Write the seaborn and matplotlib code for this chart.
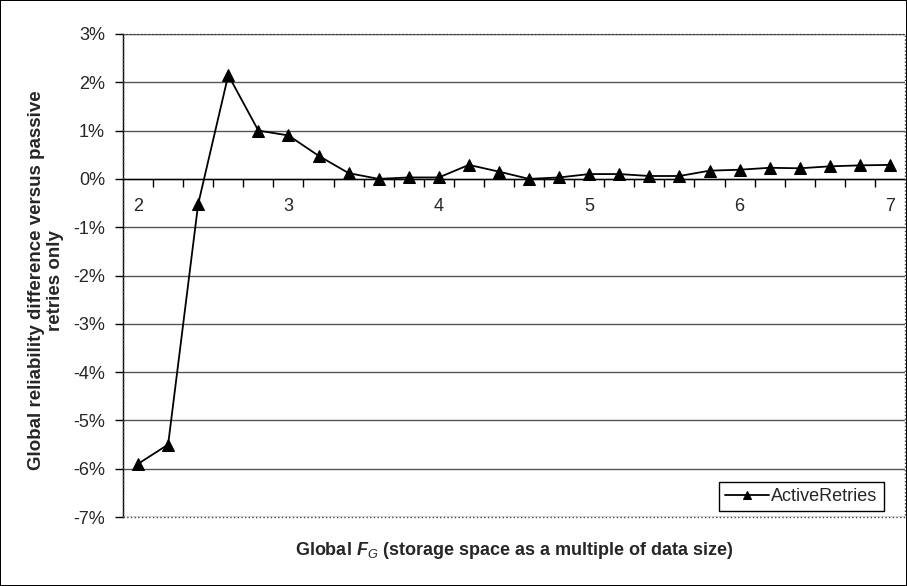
import numpy as np
import pandas as pd
import matplotlib
matplotlib.use("Agg")
import matplotlib.pyplot as plt
import matplotlib.ticker as mticker
from matplotlib.patches import Rectangle
import seaborn as sns

# data
storage_factor = [2.0, 2.2, 2.4, 2.6, 2.8, 3.0, 3.2, 3.4, 3.6, 3.8, 4.0, 4.2, 4.4,
                  4.6, 4.8, 5.0, 5.2, 5.4, 5.6, 5.8, 6.0, 6.2, 6.4, 6.6, 6.8, 7.0]
active_retries = [-5.9, -5.5, -0.52, 2.15, 1.0, 0.9, 0.48, 0.12, 0.0, 0.03, 0.03, 0.29, 0.15,
                  0.0, 0.03, 0.1, 0.1, 0.06, 0.06, 0.17, 0.19, 0.23, 0.22, 0.26, 0.28, 0.29]
x_labels = [2, 3, 4, 5, 6, 7]
y_ticks = [3, 2, 1, 0, -1, -2, -3, -4, -5, -6, -7]

df = pd.DataFrame({"fg": storage_factor, "diff": active_retries})

sns.set_style("white")
plt.rcParams['font.family'] = ['Liberation Sans', 'DejaVu Sans']
plt.rcParams['axes.unicode_minus'] = False
plt.rcParams['mathtext.fontset'] = 'custom'
plt.rcParams['mathtext.rm'] = 'Liberation Sans'
plt.rcParams['mathtext.it'] = 'Liberation Sans:italic'
plt.rcParams['mathtext.bf'] = 'Liberation Sans:bold'
plt.rcParams['mathtext.bfit'] = 'Liberation Sans:italic:bold'

fig = plt.figure(figsize=(9.07, 5.86), dpi=100, linewidth=1.2, edgecolor='black')
ax = fig.add_axes([123 / 907, 69 / 586, 782 / 907, 483 / 586])

sns.lineplot(data=df, x="fg", y="diff", ax=ax, color='black', linewidth=1.3,
             marker='^', markersize=8, markeredgecolor='black', label='ActiveRetries')

ax.set_xlim(1.9, 7.1)
ax.set_ylim(-7, 3)

# horizontal gridlines
for v in y_ticks:
    ax.axhline(v, color='#555555', linewidth=1, zorder=0)

ax.set_yticks(y_ticks)
ax.yaxis.set_major_formatter(mticker.PercentFormatter(decimals=0))
ax.tick_params(axis='y', direction='out', length=6, width=1, color='black',
               labelsize=13, pad=7, left=True)

# category axis crossing at zero
ax.spines['bottom'].set_position(('data', 0))
ax.spines['bottom'].set_color('black')
ax.spines['bottom'].set_linewidth(1)
for s in ['top', 'right']:
    ax.spines[s].set_visible(False)
ax.spines['left'].set_color('black')
ax.spines['left'].set_linewidth(1)
ax.add_patch(Rectangle((0, 0), 1, 1, transform=ax.transAxes, fill=False,
                       linestyle=':', edgecolor='#444444', linewidth=1, zorder=5,
                       clip_on=False))

ax.set_xticks(x_labels)
ax.set_xticklabels([str(v) for v in x_labels])
ax.set_xticks(np.arange(2.1, 7.0, 0.2), minor=True)
ax.tick_params(axis='x', which='major', length=0, labelsize=13, pad=14)
ax.tick_params(axis='x', which='minor', direction='out', length=6, width=1,
               color='black', bottom=True)

ax.set_xlabel(r'Global $\mathbfit{F}_{\mathit{G}}$ (storage space as a multiple of data size)',
              fontsize=13, fontweight='bold')
ax.xaxis.set_label_coords(0.5, -0.07)
ax.xaxis.label.set_va('center')
ax.set_ylabel('Global reliability difference versus passive\nretries only',
              fontsize=13.5, fontweight='bold', linespacing=1.15)
ax.yaxis.set_label_coords(-0.099, 0.49)
ax.yaxis.label.set_va('center')

leg = ax.legend(loc='lower right', fontsize=13, frameon=True, fancybox=False,
                edgecolor='black', framealpha=1, borderpad=0.35, handlelength=2.4,
                handletextpad=0.15, borderaxespad=0, markerscale=0.8,
                bbox_to_anchor=(0.973, 0.012))
leg.get_frame().set_linewidth(1)

fig.savefig('out.png', dpi=100, edgecolor=fig.get_edgecolor())
